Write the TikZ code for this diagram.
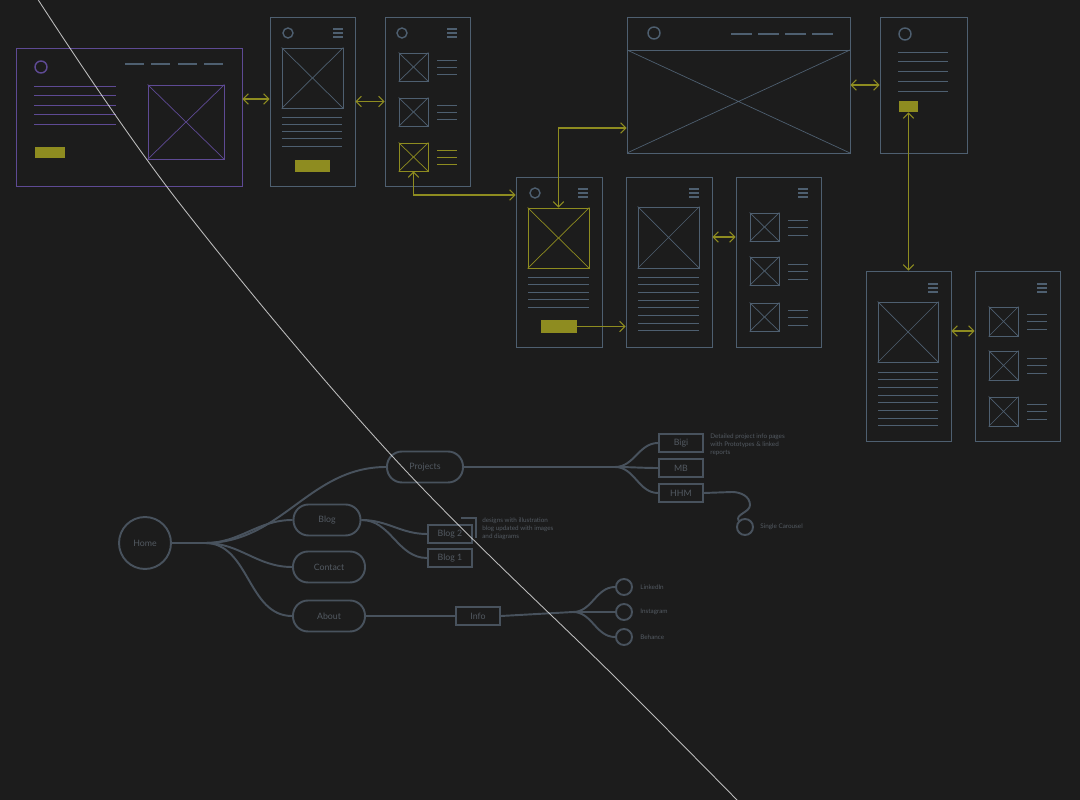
\documentclass[tikz,border=0pt]{standalone}
\usepackage{fontspec}
\setmainfont{Lato}
\usetikzlibrary{fit,arrows.meta}

\definecolor{bg}{HTML}{1C1C1C}
\definecolor{wire}{HTML}{4E5F70}
\definecolor{wirep}{HTML}{5E4A94}
\definecolor{accent}{HTML}{8E8C20}
\definecolor{flow}{HTML}{48525D}
\definecolor{flowtxt}{HTML}{535A62}

% image placeholder: box with a cross
\newcommand{\xbox}[6]{%
  \node[draw=#6, line width=0.5pt, fit={(#2,#3) (#4,#5)}, inner sep=0pt] (#1) {};
  \draw[#6, line width=0.4pt] (#1.north west) -- (#1.south east) (#1.north east) -- (#1.south west);}
% menu icon
\newcommand{\burger}[2]{\foreach \dy in {-4,0,4} \draw[wire, line width=0.7pt] (#1,#2+\dy) -- ++(10,0);}
% rows of text
\newcommand{\textrows}[6]{\foreach \k in {1,...,#6} \draw[#1, line width=0.5pt] (#2,{#4+(\k-1)*#5}) -- (#3,{#4+(\k-1)*#5});}

\begin{document}
\begin{tikzpicture}[x=0.02cm, y=-0.02cm,
  frame/.style={draw=wire, line width=0.5pt, inner sep=0pt},
  link/.style={accent, line width=0.6pt, {Straight Barb[length=3pt]}-{Straight Barb[length=3pt]}},
  flowline/.style={flow, line width=1.1pt},
  pill/.style={draw=flow, line width=1.1pt, rounded corners=0.3cm, minimum width=1.44cm, minimum height=0.62cm, text=flowtxt, font=\fontsize{5}{6}\selectfont},
  pagebox/.style={draw=flow, line width=1.1pt, minimum width=0.88cm, minimum height=0.35cm, inner sep=0pt, text=flowtxt, font=\fontsize{5}{6}\selectfont},
  social/.style={draw=flow, line width=1.1pt, circle, minimum size=0.32cm, inner sep=0pt},
  note/.style={text=flowtxt, font=\fontsize{3.6}{4.6}\selectfont, align=left, inner sep=0pt}]

\fill[bg] (0,0) rectangle (1080,800);
\useasboundingbox (0,0) rectangle (1080,800);

% desktop home
\node[frame, draw=wirep, fit={(16,48) (242,186)}] (d1) {};
\draw[wirep, line width=0.8pt] (41,67) circle[radius=0.12cm];
\foreach \x in {125,151,178,204} \draw[wire, line width=1.1pt] (\x,64) -- ++(19,0);
\textrows{wirep}{34}{116}{86}{9.5}{5}
\fill[accent] (35,147) rectangle (65,158);
\xbox{d1img}{148}{85}{224}{159}{wirep}

% mobile home
\node[frame, fit={(270,17) (355,186)}] (m1) {};
\draw[wire, line width=0.8pt] (288,33) circle[radius=0.1cm];
\burger{333}{33}
\xbox{m1img}{282}{48}{343}{108}{wire}
\textrows{wire}{282}{342}{117}{7.3}{5}
\fill[accent] (295,160) rectangle (330,172);

% mobile projects list
\node[frame, fit={(385,17) (470,186)}] (m2) {};
\draw[wire, line width=0.8pt] (402,33) circle[radius=0.1cm];
\burger{447}{33}
\xbox{t21}{399}{53}{428}{81}{wire}
\xbox{t22}{399}{98}{428}{126}{wire}
\xbox{t23}{399}{143}{428}{171}{accent}
\textrows{wire}{437}{457}{60}{7}{3}
\textrows{wire}{437}{457}{105}{7}{3}
\textrows{accent}{437}{457}{150}{7}{3}

% mobile project page
\node[frame, fit={(516,177) (602,347)}] (m3) {};
\draw[wire, line width=0.8pt] (535,193) circle[radius=0.1cm];
\burger{578}{193}
\xbox{img3}{528}{208}{589}{268}{accent}
\textrows{wire}{528}{589}{277}{7.5}{5}
\node[fill=accent, fit={(541,320) (577,333)}, inner sep=0pt] (btn3) {};

% mobile detail
\node[frame, fit={(626,177) (712,347)}] (m4) {};
\burger{689}{193}
\xbox{img4}{638}{207}{699}{268}{wire}
\textrows{wire}{638}{699}{277}{7.7}{8}

% mobile detail list
\node[frame, fit={(736,177) (821,347)}] (m5) {};
\burger{798}{193}
\xbox{t51}{750}{213}{779}{241}{wire}
\xbox{t52}{750}{257}{779}{285}{wire}
\xbox{t53}{750}{303}{779}{331}{wire}
\textrows{wire}{788}{808}{220}{7.5}{3}
\textrows{wire}{788}{808}{264}{7.5}{3}
\textrows{wire}{788}{808}{310}{7.5}{3}

% desktop project page
\node[frame, fit={(627,17) (850,153)}] (d2) {};
\draw[wire, line width=0.8pt] (654,33) circle[radius=0.12cm];
\foreach \x in {731,758,785,812} \draw[wire, line width=1.1pt] (\x,34) -- ++(21,0);
\draw[wire, line width=0.5pt] (627,50) -- (850,50);
\draw[wire, line width=0.4pt] (627,50) -- (850,153) (850,50) -- (627,153);

% mobile about
\node[frame, fit={(880,17) (967,153)}] (m6) {};
\draw[wire, line width=0.8pt] (905,34) circle[radius=0.12cm];
\textrows{wire}{898}{948}{52}{9.8}{5}
\node[fill=accent, fit={(899,101) (918,112)}, inner sep=0pt] (btn6) {};

% mobile info page
\node[frame, fit={(866,271) (951,441)}] (m7) {};
\burger{928}{288}
\xbox{img7}{878}{302}{938}{362}{wire}
\textrows{wire}{878}{938}{372}{7.7}{8}

% mobile info list
\node[frame, fit={(975,271) (1060,441)}] (m8) {};
\burger{1037}{288}
\xbox{t81}{989}{307}{1018}{336}{wire}
\xbox{t82}{989}{351}{1018}{380}{wire}
\xbox{t83}{989}{397}{1018}{426}{wire}
\textrows{wire}{1027}{1047}{314}{7.5}{3}
\textrows{wire}{1027}{1047}{358}{7.5}{3}
\textrows{wire}{1027}{1047}{404}{7.5}{3}

% links between screens
\draw[link] ([yshift=0.36cm]d1.east) -- ([yshift=0.36cm]d1.east -| m1.west);
\draw[link] (m1.east) -- (m2.west);
\draw[link] (t23.south) |- ([yshift=1.34cm]m3.west);
\draw[link] (img3.north) |- ([yshift=-0.86cm]d2.west);
\draw[accent, line width=0.6pt, -{Straight Barb[length=3pt]}] (btn3.east) -- (btn3.east -| m4.west);
\draw[link] ([yshift=0.5cm]m4.east) -- ([yshift=0.5cm]m5.west);
\draw[link] (d2.east) -- (d2.east -| m6.west);
\draw[link] (btn6.south) -- (btn6.south |- m7.north);
\draw[link] ([yshift=0.5cm]m7.east) -- ([yshift=0.5cm]m8.west);

% site map
\node[draw=flow, line width=1.1pt, circle, minimum size=1.04cm, inner sep=0pt, text=flowtxt, font=\fontsize{5}{6}\selectfont] (home) at (145,543) {Home};
\node[pill, minimum width=1.52cm] (proj) at (425,467) {Projects};
\node[pill, minimum width=1.34cm] (blog) at (327,520) {Blog};
\node[pill] (contact) at (329,567) {Contact};
\node[pill] (about) at (329,616) {About};
\coordinate (hub) at (205,543);
\draw[flowline] (home.east) -- (hub);
\foreach \t in {proj,blog,contact,about} \draw[flowline] (hub) to[out=0,in=180] (\t.west);

\node[pagebox] (bigi) at (681,443) {Bigi};
\node[pagebox] (mb) at (681,468) {MB};
\node[pagebox] (hhm) at (681,493) {HHM};
\coordinate (pfan) at (615,467);
\draw[flowline] (proj.east) -- (pfan);
\foreach \t in {bigi,mb,hhm} \draw[flowline] (pfan) to[out=0,in=180] (\t.west);
\node[note, anchor=north west] (bigitxt) at (710,433) {Detailed project info pages\\with Prototypes \& linked\\reports};
\node[social] (car) at (745,527) {};
\node[note, anchor=west] (cartxt) at (760,527) {Single Carousel};
\draw[flowline] (hhm.east) -- (732,492) to[out=0,in=90] (750,505) to[out=-90,in=120] (car.north west);

\node[pagebox] (blog2) at (450,534) {Blog 2};
\node[pagebox] (blog1) at (450,558) {Blog 1};
\draw[flowline] ([xshift=-0.24cm, yshift=0.12cm]blog2.north east) -| ([xshift=0.06cm, yshift=-0.08cm]blog2.east);
\draw[flowline] (blog.east) to[out=0,in=180] (blog2.west);
\draw[flowline] (blog.east) to[out=0,in=180] (blog1.west);
\node[note, anchor=north west] (blogtxt) at (482,517) {designs with illustration\\blog updated with images\\and diagrams};

\node[pagebox] (info) at (478,616) {Info};
\draw[flowline] (about.east) -- (info.west);
\node[social] (li) at (624,587) {};
\node[social] (ig) at (624,612) {};
\node[social] (be) at (624,637) {};
\coordinate (sfan) at (573,612);
\draw[flowline] (info.east) -- (sfan);
\foreach \t in {li,ig,be} \draw[flowline] (sfan) to[out=0,in=180] (\t.west);
\node[note, anchor=west] (litxt) at (640,587) {LinkedIn};
\node[note, anchor=west] (igtxt) at (640,612) {Instagram};
\node[note, anchor=west] (betxt) at (640,637) {Behance};

% scratch across the picture
\draw[white, opacity=0.7, line width=0.5pt] plot[smooth, tension=0.6] coordinates {(37,-2) (177,200) (393,457) (618,680) (739,802)};
\end{tikzpicture}
\end{document}
